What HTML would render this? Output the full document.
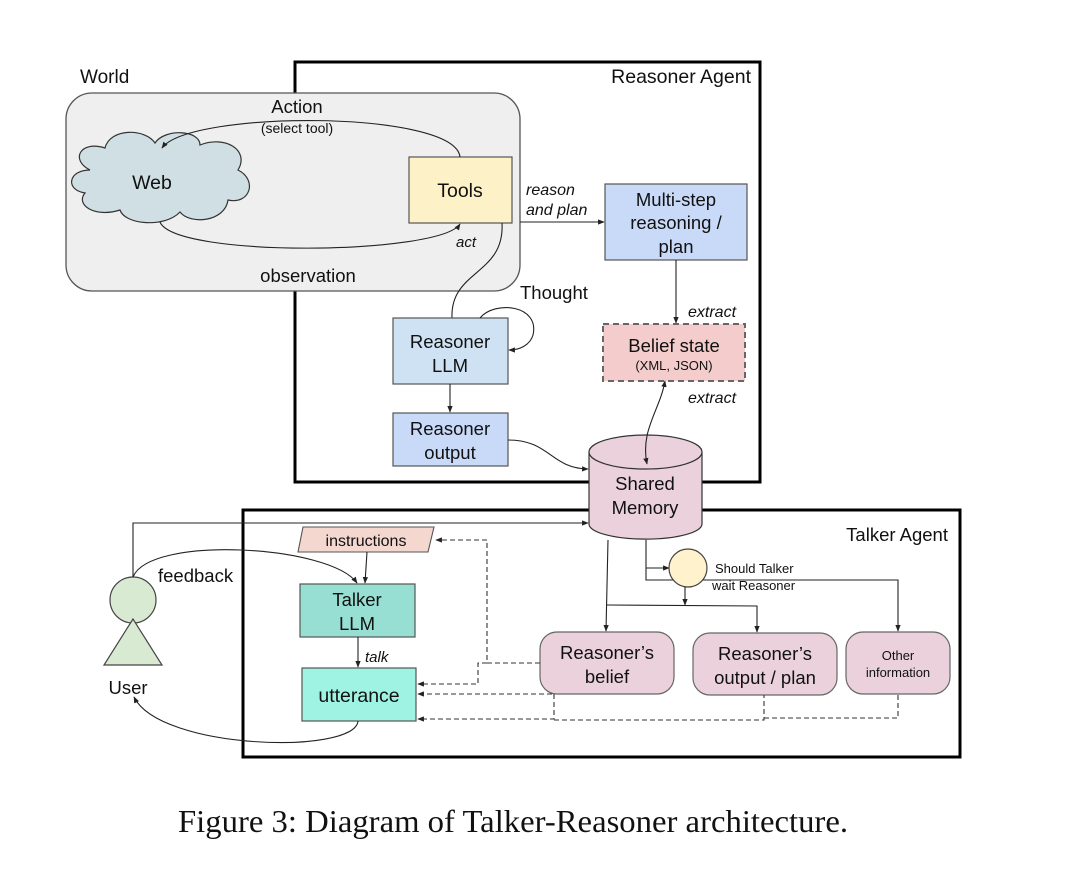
<!DOCTYPE html>
<html><head><meta charset="utf-8"><style>
html,body{margin:0;padding:0;background:#fff;}
svg{display:block;}
text{font-family:"Liberation Sans",sans-serif;fill:#111;}
.i{font-style:italic;}
</style></head><body>
<svg width="1080" height="880" viewBox="0 0 1080 880" xmlns="http://www.w3.org/2000/svg">
<defs>
<marker id="a" viewBox="0 0 10 10" refX="9" refY="5" markerWidth="6" markerHeight="6" orient="auto-start-reverse"><path d="M0,1 L10,5 L0,9 z" fill="#222"/></marker>
</defs>
<rect x="295" y="62" width="465" height="420" fill="none" stroke="#000" stroke-width="3"/>
<text x="751" y="83" font-size="19.5" text-anchor="end">Reasoner Agent</text>
<text x="80" y="83" font-size="19">World</text>
<rect x="66" y="93" width="454" height="198" rx="26" fill="#efefef" stroke="#555" stroke-width="1.3"/>
<path d="M90,170 C70,160 80,140 105,148 C110,128 145,128 155,143 C165,128 200,130 200,145 C225,135 250,150 238,170 C258,180 250,205 228,200 C225,222 190,225 180,212 C165,228 125,225 120,210 C95,218 75,205 85,193 C65,190 68,170 90,170 z" fill="#d0dfe3" stroke="#333" stroke-width="1.2"/>
<text x="152" y="189" font-size="19.5" text-anchor="middle">Web</text>
<rect x="409" y="157" width="103" height="66" fill="#fdf1c7" stroke="#555" stroke-width="1.2"/>
<text x="460" y="197" font-size="19.5" text-anchor="middle">Tools</text>
<text x="297" y="113" font-size="18.5" text-anchor="middle">Action</text>
<text x="297" y="133" font-size="14" text-anchor="middle">(select tool)</text>
<path d="M460,157 C455,110 190,110 162,148" fill="none" stroke="#222" stroke-width="1.1" marker-end="url(#a)"/>
<path d="M160,222 C175,258 440,255 460,224" fill="none" stroke="#222" stroke-width="1.1" marker-end="url(#a)"/>
<text x="456" y="247" font-size="15" class="i">act</text>
<text x="308" y="282" font-size="18.5" text-anchor="middle">observation</text>
<line x1="520" y1="222" x2="604" y2="222" stroke="#222" stroke-width="1.1" marker-end="url(#a)"/>
<text x="526" y="195" font-size="16" class="i">reason</text>
<text x="526" y="215" font-size="16" class="i">and plan</text>
<rect x="605" y="184" width="142" height="76" fill="#c9daf8" stroke="#555" stroke-width="1.2"/>
<text x="676" y="206" font-size="18.5" text-anchor="middle">Multi-step</text>
<text x="676" y="229" font-size="18.5" text-anchor="middle">reasoning /</text>
<text x="676" y="253" font-size="18.5" text-anchor="middle">plan</text>
<line x1="676" y1="260" x2="676" y2="323" stroke="#222" stroke-width="1.1" marker-end="url(#a)"/>
<text x="688" y="317" font-size="16" class="i">extract</text>
<rect x="603" y="324" width="142" height="57" fill="#f4cccc" stroke="#666" stroke-width="2" stroke-dasharray="6,4"/>
<text x="674" y="352" font-size="18.5" text-anchor="middle">Belief state</text>
<text x="674" y="370" font-size="13" text-anchor="middle">(XML, JSON)</text>
<text x="688" y="403" font-size="16" class="i">extract</text>
<path d="M502,223 C505,275 450,270 452,318" fill="none" stroke="#222" stroke-width="1.1"/>
<text x="520" y="299" font-size="18.5">Thought</text>
<rect x="393" y="318" width="115" height="66" fill="#cfe2f3" stroke="#555" stroke-width="1.2"/>
<text x="450" y="348" font-size="18.5" text-anchor="middle">Reasoner</text>
<text x="450" y="372" font-size="18.5" text-anchor="middle">LLM</text>
<path d="M480,318 C495,300 540,305 533,335 C530,345 520,350 509,350" fill="none" stroke="#222" stroke-width="1.1" marker-end="url(#a)"/>
<line x1="450" y1="384" x2="450" y2="412" stroke="#222" stroke-width="1.1" marker-end="url(#a)"/>
<rect x="393" y="413" width="115" height="53" fill="#c9daf8" stroke="#555" stroke-width="1.2"/>
<text x="450" y="435" font-size="18.5" text-anchor="middle">Reasoner</text>
<text x="450" y="459" font-size="18.5" text-anchor="middle">output</text>
<path d="M508,440 C550,440 550,468 588,469" fill="none" stroke="#222" stroke-width="1.1" marker-end="url(#a)"/>
<rect x="243" y="510" width="717" height="247" fill="none" stroke="#000" stroke-width="3"/>
<text x="948" y="541" font-size="18.5" text-anchor="end">Talker Agent</text>
<path d="M589,452 L589,524 A56,15 0 0 0 702,524 L702,452" fill="#ead1dc" stroke="#333" stroke-width="1.2"/>
<ellipse cx="645.5" cy="452" rx="56.5" ry="17" fill="#ead1dc" stroke="#333" stroke-width="1.2"/>
<text x="645" y="490" font-size="18.5" text-anchor="middle">Shared</text>
<text x="645" y="514" font-size="18.5" text-anchor="middle">Memory</text>
<path d="M665,381 C660,410 640,430 647,464" fill="none" stroke="#222" stroke-width="1.1" marker-start="url(#a)" marker-end="url(#a)"/>
<circle cx="133" cy="600" r="23" fill="#d9ead3" stroke="#444" stroke-width="1.2"/>
<path d="M133,619 L104,665 L162,665 z" fill="#d9ead3" stroke="#444" stroke-width="1.2"/>
<text x="128" y="694" font-size="18.5" text-anchor="middle">User</text>
<path d="M133,577 L133,523 L588,523" fill="none" stroke="#222" stroke-width="1.1" marker-end="url(#a)"/>
<path d="M133,577 C150,535 330,545 357,583" fill="none" stroke="#222" stroke-width="1.1" marker-end="url(#a)"/>
<text x="158" y="582" font-size="18.5">feedback</text>
<path d="M303,527 L434,527 L428,552 L298,552 z" fill="#f4d7cf" stroke="#555" stroke-width="1.1"/>
<text x="366" y="546" font-size="16" text-anchor="middle">instructions</text>
<line x1="367" y1="552" x2="365" y2="583" stroke="#222" stroke-width="1.1" marker-end="url(#a)"/>
<rect x="300" y="584" width="115" height="53" fill="#97ded3" stroke="#555" stroke-width="1.2"/>
<text x="357" y="606" font-size="18.5" text-anchor="middle">Talker</text>
<text x="357" y="630" font-size="18.5" text-anchor="middle">LLM</text>
<line x1="358" y1="637" x2="358" y2="667" stroke="#222" stroke-width="1.1" marker-end="url(#a)"/>
<text x="365" y="662" font-size="15" class="i">talk</text>
<rect x="302" y="668" width="114" height="53" fill="#9ff3e2" stroke="#555" stroke-width="1.2"/>
<text x="359" y="702" font-size="19.5" text-anchor="middle">utterance</text>
<path d="M358,721 C355,755 160,750 134,697" fill="none" stroke="#222" stroke-width="1.1" marker-end="url(#a)"/>
<line x1="608" y1="540" x2="606" y2="631" stroke="#222" stroke-width="1.1" marker-end="url(#a)"/>
<path d="M646,540 L646,568 L669,568" fill="none" stroke="#222" stroke-width="1.1" marker-end="url(#a)"/>
<path d="M646,568 L646,580 L898,580 L898,631" fill="none" stroke="#222" stroke-width="1.1" marker-end="url(#a)"/>
<circle cx="688" cy="568" r="19" fill="#fff2cc" stroke="#444" stroke-width="1.2"/>
<text x="715" y="573" font-size="13">Should Talker</text>
<text x="712" y="590" font-size="13">wait Reasoner</text>
<line x1="685" y1="587" x2="685" y2="605" stroke="#222" stroke-width="1.1" marker-end="url(#a)"/>
<path d="M607,605 L757,606 L757,632" fill="none" stroke="#222" stroke-width="1.1" marker-end="url(#a)"/>
<rect x="540" y="632" width="134" height="62" rx="17" fill="#ead1dc" stroke="#666" stroke-width="1.2"/>
<text x="607" y="659" font-size="18.5" text-anchor="middle">Reasoner’s</text>
<text x="607" y="683" font-size="18.5" text-anchor="middle">belief</text>
<rect x="693" y="633" width="144" height="62" rx="17" fill="#ead1dc" stroke="#666" stroke-width="1.2"/>
<text x="765" y="660" font-size="18.5" text-anchor="middle">Reasoner’s</text>
<text x="765" y="684" font-size="18.5" text-anchor="middle">output / plan</text>
<rect x="846" y="632" width="104" height="62" rx="17" fill="#ead1dc" stroke="#666" stroke-width="1.2"/>
<text x="898" y="660" font-size="13" text-anchor="middle">Other</text>
<text x="898" y="677" font-size="13" text-anchor="middle">information</text>
<g fill="none" stroke="#333" stroke-width="1.1" stroke-dasharray="5,3">
<path d="M540,663 L487,663 L487,540 L436,540" marker-end="url(#a)"/>
<path d="M487,663 L478,663 L478,684 L418,684" marker-end="url(#a)"/>
<path d="M552,694 L418,694" marker-end="url(#a)"/>
<path d="M554,694 L554,719 L418,719" marker-end="url(#a)"/>
<path d="M554,720 L764,720 L764,695"/>
<path d="M764,718 L898,718 L898,694"/>
</g>
<text x="178" y="832" font-size="32" textLength="670" lengthAdjust="spacingAndGlyphs" style="font-family:'Liberation Serif',serif">Figure 3: Diagram of Talker-Reasoner architecture.</text>
</svg>
</body></html>
